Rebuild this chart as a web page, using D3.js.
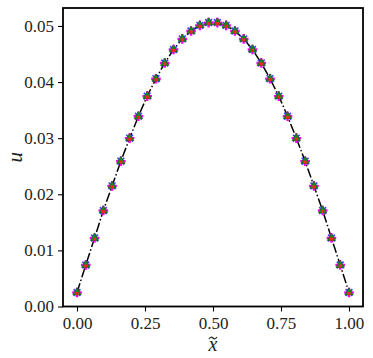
<!DOCTYPE html>
<html><head><meta charset="utf-8">
<script src="https://cdn.jsdelivr.net/npm/d3@7"></script>
<style>body{margin:0;background:#fff}svg{display:block}</style>
</head><body>
<script>
// x positions (32 grid points on [0,1])
const xIndex = d3.range(32);
const xValues = xIndex.map(i => i / 31);
// values (symmetric profile)
const uHalf = [0.0025, 0.0074, 0.0122, 0.0171, 0.0215, 0.0259, 0.0300, 0.0339,
               0.0375, 0.0406, 0.0434, 0.0458, 0.0477, 0.0491, 0.0501, 0.0506];
const uExact = uHalf.concat(uHalf.slice().reverse());
const uSeriesA = uExact.slice(); // magenta +
const uSeriesB = uExact.slice(); // blue x
const uSeriesC = uExact.slice(); // green triangle
const uSeriesD = uExact.slice(); // red square
const xTicks = [0, 0.25, 0.5, 0.75, 1.0];
const yTicks = [0, 0.01, 0.02, 0.03, 0.04, 0.05];

const W = 373, H = 358;
const L = 63, R = 363, T = 8, B = 306.5;
const svg = d3.select("body").append("svg").attr("width", W).attr("height", H);
const x = d3.scaleLinear().domain([-0.0515, 1.0515]).range([L, R]);
const y = d3.scaleLinear().domain([0, 0.0532]).range([B, T]);
const font = "Liberation Serif, serif";

const xAxis = svg.append("g").attr("transform", `translate(0,${B})`)
  .call(d3.axisBottom(x).tickValues(xTicks).tickFormat(d3.format(".2f")).tickSize(5).tickPadding(5));
const yAxis = svg.append("g").attr("transform", `translate(${L},0)`)
  .call(d3.axisLeft(y).tickValues(yTicks).tickFormat(d3.format(".2f")).tickSize(5).tickPadding(4));
[xAxis, yAxis].forEach(g => {
  g.select(".domain").remove();
  g.selectAll("line").attr("stroke", "#000").attr("stroke-width", 1.1);
  g.selectAll("text").attr("font-family", font).attr("font-size", 17).attr("fill", "#222");
});

// line
const line = d3.line().x((d, i) => x(xValues[i])).y(d => y(d));
svg.append("path").datum(uExact).attr("d", line).attr("fill", "none")
  .attr("stroke", "#000").attr("stroke-width", 1.5).attr("stroke-dasharray", "9.6,2.4,1.5,2.4");

// markers
const gB = svg.append("g");
uSeriesB.forEach((v, i) => {
  const cx = x(xValues[i]), cy = y(v), s = 3.4;
  gB.append("path").attr("d", `M${cx - s},${cy - s}L${cx + s},${cy + s}M${cx - s},${cy + s}L${cx + s},${cy - s}`)
    .attr("stroke", "#4040ff").attr("stroke-width", 1.6);
});
const gA = svg.append("g");
uSeriesA.forEach((v, i) => {
  const cx = x(xValues[i]), cy = y(v), s = 4.8;
  gA.append("path").attr("d", `M${cx - s},${cy}H${cx + s}M${cx},${cy - s}V${cy + s}`)
    .attr("stroke", "#ff00ff").attr("stroke-width", 2.4);
});
const tri = d3.symbol().type(d3.symbolTriangle).size(30);
svg.append("g").selectAll("path").data(uSeriesC).join("path")
  .attr("transform", (d, i) => `translate(${x(xValues[i])},${y(d)})`)
  .attr("d", tri).attr("fill", "#1a8a1a").attr("stroke", "#0a5a0a").attr("stroke-width", 0.6);
svg.append("g").selectAll("rect").data(uSeriesD).join("rect")
  .attr("x", (d, i) => x(xValues[i]) - 1.5).attr("y", d => y(d) - 0.5)
  .attr("width", 3).attr("height", 3).attr("fill", "#ff2020");

// frame
svg.append("rect").attr("x", L).attr("y", T).attr("width", R - L).attr("height", B - T)
  .attr("fill", "none").attr("stroke", "#000").attr("stroke-width", 1.8);

// axis labels
const xl = (L + R) / 2;
svg.append("text").attr("x", xl).attr("y", 351).attr("text-anchor", "middle")
  .attr("font-family", font).attr("font-style", "italic").attr("font-size", 20)
  .attr("fill", "#222").text("x");
svg.append("path").attr("d", `M${xl - 4},${339} q2,-3 4,-1 t4,-1`)
  .attr("fill", "none").attr("stroke", "#222").attr("stroke-width", 1.2);
svg.append("text").attr("transform", `translate(22,${(T + B) / 2}) rotate(-90)`).attr("text-anchor", "middle")
  .attr("font-family", font).attr("font-style", "italic").attr("font-size", 21)
  .attr("fill", "#222").text("u");
</script>
</body></html>
